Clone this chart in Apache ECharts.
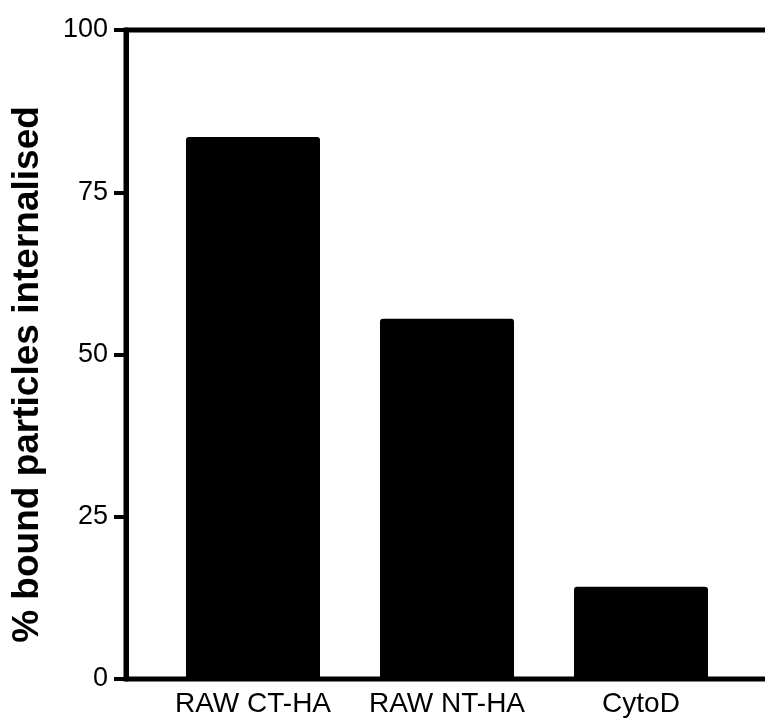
<!DOCTYPE html>
<html>
<head>
<meta charset="utf-8">
<script src="https://cdn.jsdelivr.net/npm/echarts@6/dist/echarts.min.js"></script>
<style>html,body{margin:0;padding:0;background:#fff}#c{width:765px;height:722px}</style>
</head>
<body>
<div id="c"></div>
<script>
const categories = ['RAW CT-HA', 'RAW NT-HA', 'CytoD'];
const values = [83.5, 55.5, 14.2];
const yTicks = [0, 25, 50, 75, 100];
const yTitle = '% bound particles internalised';

const chart = echarts.init(document.getElementById('c'), null, {renderer: 'canvas'});
const font = '"Liberation Sans", Arial, sans-serif';
chart.setOption({
  backgroundColor: '#fff',
  animation: false,
  grid: [
    {left: 126, top: 30, bottom: 43, width: 720, outerBoundsMode: 'none', containLabel: false,
     show: true, borderColor: '#000', borderWidth: 5, backgroundColor: 'transparent'},
    {left: 156, top: 30, bottom: 43, right: 27, outerBoundsMode: 'none', containLabel: false}
  ],
  xAxis: [
    {gridIndex: 0, type: 'value', min: 0, max: 1, axisLine: {show: false}, axisTick: {show: false}, axisLabel: {show: false}, splitLine: {show: false}},
    {gridIndex: 1, type: 'category', data: categories, axisLine: {show: false}, axisTick: {show: false},
     axisLabel: {fontFamily: font, fontSize: 28, color: '#000', margin: 11, interval: 0}, splitLine: {show: false}}
  ],
  yAxis: [
    {gridIndex: 0, type: 'value', min: yTicks[0], max: yTicks[yTicks.length - 1], interval: 25,
     axisLine: {show: true, lineStyle: {color: '#000', width: 5}},
     axisTick: {show: true, length: 12, lineStyle: {color: '#000', width: 4}},
     axisLabel: {fontFamily: font, fontSize: 27, color: '#000', margin: 18},
     splitLine: {show: false},
     name: yTitle, nameLocation: 'middle', nameGap: 80, nameRotate: 90,
     nameTextStyle: {fontFamily: font, fontSize: 37, fontWeight: 'bold', color: '#000', padding: [0, 40, 0, 0]}},
    {gridIndex: 1, type: 'value', min: 0, max: 100, show: false}
  ],
  series: [{
    type: 'bar', xAxisIndex: 1, yAxisIndex: 1, data: values, barWidth: 134,
    itemStyle: {color: '#000', borderRadius: [3, 3, 0, 0]}
  }]
});
</script>
</body>
</html>
